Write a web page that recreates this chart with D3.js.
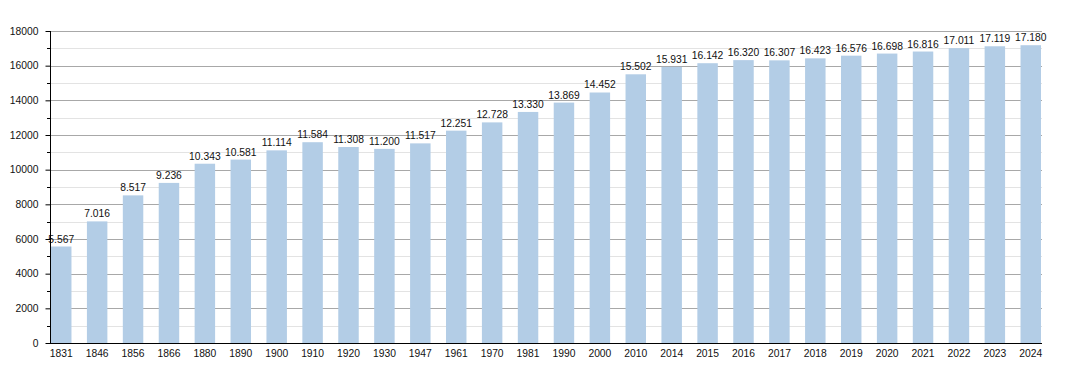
<!DOCTYPE html>
<html>
<head>
<meta charset="utf-8">
<script src="https://cdn.jsdelivr.net/npm/d3@7"></script>
<style>
  body { margin: 0; background: #fff; }
  text { font-family: "Liberation Sans", Arial, sans-serif; }
</style>
</head>
<body>
<div id="chart"></div>
<script>
// census years and population
var years = ["1831","1846","1856","1866","1880","1890","1900","1910","1920","1930",
  "1947","1961","1970","1981","1990","2000","2010","2014","2015","2016",
  "2017","2018","2019","2020","2021","2022","2023","2024"];
var population = [5567, 7016, 8517, 9236, 10343, 10581, 11114, 11584, 11308, 11200,
  11517, 12251, 12728, 13330, 13869, 14452, 15502, 15931, 16142, 16320,
  16307, 16423, 16576, 16698, 16816, 17011, 17119, 17180];
var yTicks = [0, 2000, 4000, 6000, 8000, 10000, 12000, 14000, 16000, 18000];

var width = 1070, height = 373;
var plotLeft = 50, plotRight = 1042, plotTop = 31, plotBottom = 343;
var fontSize = 10.3;

var svg = d3.select("#chart").append("svg")
  .attr("width", width)
  .attr("height", height);

var x = d3.scaleBand()
  .domain(years)
  .range([plotLeft, plotRight])
  .paddingInner(0.43)
  .paddingOuter(0.028);

var y = d3.scaleLinear()
  .domain([0, 18000])
  .range([plotBottom, plotTop]);

var minorTicks = d3.range(1000, 18000, 2000);

// minor grid lines
svg.append("g")
  .selectAll("line")
  .data(minorTicks)
  .enter().append("line")
  .attr("x1", plotLeft).attr("x2", plotRight)
  .attr("y1", function(d) { return Math.round(y(d)) + 0.5; })
  .attr("y2", function(d) { return Math.round(y(d)) + 0.5; })
  .attr("stroke", "#e3e3e3");

// major grid lines
svg.append("g")
  .selectAll("line")
  .data(yTicks.slice(1))
  .enter().append("line")
  .attr("x1", plotLeft).attr("x2", plotRight)
  .attr("y1", function(d) { return Math.round(y(d)) + 0.5; })
  .attr("y2", function(d) { return Math.round(y(d)) + 0.5; })
  .attr("stroke", "#a8a8a8");

// bars
svg.append("g")
  .selectAll("rect")
  .data(years)
  .enter().append("rect")
  .attr("x", function(d) { return x(d); })
  .attr("width", x.bandwidth())
  .attr("y", function(d, i) { return y(population[i]); })
  .attr("height", function(d, i) { return plotBottom - y(population[i]); })
  .attr("fill", "#b3cde6");

// value labels, dot as thousands separator
var fmt = function(v) { return d3.format(",")(v).replace(/,/g, "."); };
svg.append("g")
  .selectAll("text")
  .data(years)
  .enter().append("text")
  .attr("x", function(d) { return x(d) + x.bandwidth() / 2; })
  .attr("y", function(d, i) { return y(population[i]) - 4; })
  .attr("text-anchor", "middle")
  .attr("font-size", fontSize)
  .attr("fill", "#111")
  .text(function(d, i) { return fmt(population[i]); });

// y axis
var yAxis = svg.append("g")
  .attr("transform", "translate(" + (plotLeft + 0.5) + ",0)")
  .call(d3.axisLeft(y).tickValues(yTicks).tickSize(5).tickPadding(7).tickFormat(d3.format("d")));
yAxis.select(".domain").attr("d", "M0," + plotTop + "V" + (plotBottom + 0.5));
yAxis.selectAll("text").attr("font-size", fontSize).attr("font-family", "Liberation Sans, Arial, sans-serif").attr("fill", "#111");

// minor ticks on y axis
svg.append("g")
  .selectAll("line")
  .data(minorTicks)
  .enter().append("line")
  .attr("x1", plotLeft - 3).attr("x2", plotLeft)
  .attr("y1", function(d) { return Math.round(y(d)) + 0.5; })
  .attr("y2", function(d) { return Math.round(y(d)) + 0.5; })
  .attr("stroke", "#000");

// x axis
var xAxis = svg.append("g")
  .attr("transform", "translate(0," + (plotBottom + 0.5) + ")")
  .call(d3.axisBottom(x).tickSize(0).tickPadding(6));
xAxis.select(".domain").attr("d", "M" + plotLeft + ",0H" + plotRight);
xAxis.selectAll("text").attr("font-size", fontSize).attr("font-family", "Liberation Sans, Arial, sans-serif").attr("fill", "#111");
</script>
</body>
</html>
